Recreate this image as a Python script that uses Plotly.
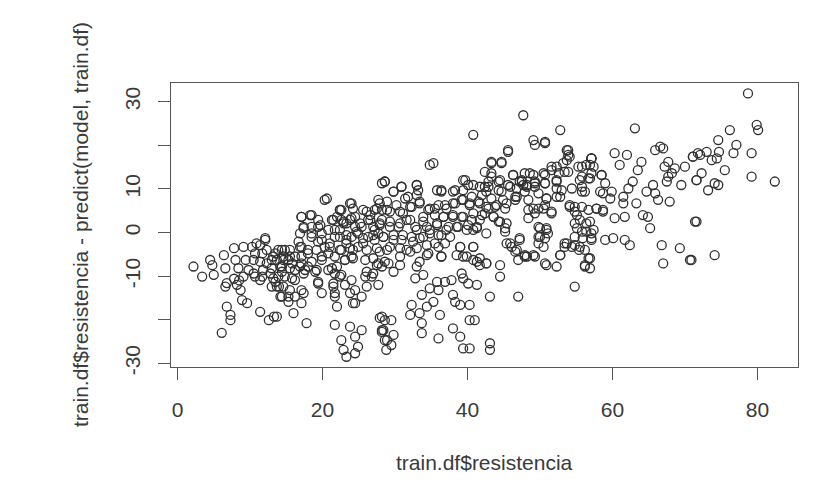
import plotly.graph_objects as go

# train.df$resistencia (x) and residual (y)
resistencia = [
 2.2,3.4,4.5,4.8,5.0,6.4,6.6,6.8,6.6,7.8,8.0,8.4,8.2,8.7,9.1,9.4,9.8,10.3,10.5,10.7,8.9,9.6,6.8,7.3,7.3,6.1,11.4,12.6,13.3,9.1,7.8,8.5,
 12.1,11.4,11.7,12.3,13.0,13.5,12.8,13.5,14.0,13.0,11.7,14.2,14.2,
 13.9,14.6,14.4,13.9,13.7,14.4,15.3,16.0,13.7,15.5,15.8,16.2,17.1,17.1,17.4,17.1,17.8,18.0,17.1,17.4,18.3,18.5,18.5,19.4,19.4,19.2,
 20.3,19.9,19.0,19.4,19.9,20.8,21.0,20.8,21.3,21.5,21.7,22.0,21.7,21.5,22.4,22.4,22.6,22.6,23.1,22.6,22.9,23.3,
 24.0,23.8,24.0,24.2,24.0,23.8,24.2,23.8,24.5,24.9,24.5,25.4,25.6,25.4,25.6,25.9,25.9,26.1,27.2,27.0,27.2,27.7,26.8,28.2,28.2,28.2,27.7,28.2,
 27.9,28.2,28.6,28.8,29.5,
 22.6,24.5,26.3,27.2,24.9,23.3,21.7,19.9,16.9,16.7,18.0,15.5,14.8,13.7,15.3,16.2,17.6,14.8,16.2,15.3,16.2,20.3,21.7,24.0,24.9,26.3,27.7,28.2,26.6,24.5,22.9,22.0,19.4,21.7,23.1,24.5,25.4,24.5,27.0,27.7,28.2,
 40.8,35.3,28.6,29.8,30.9,33.0,33.2,31.8,36.4,38.3,39.4,40.1,41.7,42.6,
 27.9,28.9,30.2,31.1,32.3,33.4,33.9,34.6,36.0,37.1,38.3,39.4,40.3,41.5,42.6,36.7,38.0,39.2,40.6,41.7,
 27.9,29.3,30.7,32.1,33.0,34.4,35.8,37.1,38.5,39.9,41.3,42.6,28.4,29.8,31.1,32.5,33.9,36.0,36.0,37.6,39.0,40.8,
 27.9,28.9,30.7,32.1,34.4,36.4,38.5,39.9,41.3,42.6,41.7,28.6,29.8,33.0,33.9,32.8,35.8,36.9,37.8,39.2,39.4,40.1,41.3,
 34.8,36.0,33.7,38.0,38.3,35.3,32.3,34.4,33.4,32.1,36.2,39.0,40.3,41.0,40.3,33.7,28.6,29.5,28.4,29.8,28.9,33.7,38.0,39.0,36.0,39.4,40.3,43.1,43.1,
 47.7,52.8,49.1,49.3,50.7,45.6,53.7,53.9,53.7,43.3,44.7,42.4,43.3,44.5,46.3,47.5,48.6,49.3,50.7,51.6,52.3,53.4,55.3,56.4,57.1,55.8,57.1,
 42.9,44.3,45.6,46.8,48.2,49.3,50.7,52.3,53.0,54.4,55.8,56.2,43.3,44.9,46.6,48.4,50.9,52.3,50.7,43.8,45.2,54.1,54.8,55.8,56.7,
 42.4,43.6,48.4,49.8,49.3,51.6,55.1,44.3,45.2,49.8,50.9,51.1,54.8,55.8,57.1,45.4,46.1,46.6,47.2,49.8,50.0,50.5,49.1,47.0,47.9,
 52.8,53.4,54.8,55.5,56.2,50.9,52.3,56.2,44.5,42.6,44.5,54.8,47.0,43.1,
 63.1,65.9,66.6,67.0,60.3,62.0,61.0,64.0,63.5,67.7,67.2,68.6,70.0,71.1,71.8,57.1,57.4,58.5,59.0,62.8,62.2,67.7,68.2,67.5,69.5,71.6,
 56.9,58.7,59.9,59.7,61.5,61.5,63.3,64.7,65.9,65.6,66.3,67.9,57.8,58.7,60.3,61.7,64.2,64.9,65.2,56.9,57.4,57.1,71.4,
 59.0,60.1,61.7,62.4,66.8,69.3,56.9,67.0,70.7,56.9,
 78.7,79.9,80.1,76.2,74.6,77.1,76.7,74.7,79.2,71.1,72.1,73.0,73.7,74.4,75.5,72.3,71.6,74.1,74.6,73.2,79.2,82.4,71.6,74.1,70.9,
]
residuo = [
 -7.8,-10.1,-6.3,-7.5,-9.7,-5.2,-8.2,-11.6,-12.4,-3.6,-6.3,-8.2,-12.0,-13.2,-3.3,-6.3,-8.6,-3.3,-6.3,-10.1,-15.5,-16.2,-17.0,-18.9,-20.1,-23.0,-18.2,-20.1,-19.3,-10.1,-10.6,-11.0,
 -1.3,-2.9,-4.8,-7.1,-6.3,-4.8,-9.4,-11.3,-12.4,-12.4,-10.1,-7.8,-14.7,
 -4.0,-5.5,-7.8,-10.1,-12.4,-14.7,-15.9,-18.5,-19.3,-13.2,-7.1,-5.5,-3.3,-7.1,-13.9,-16.2,-20.8,-7.8,3.6,1.0,4.0,1.3,-1.0,1.3,-2.1,-4.0,
 7.5,-5.5,-9.0,-11.3,-13.9,0.6,-2.5,-4.8,-8.2,-11.7,-14.7,-17.0,-21.2,2.9,5.2,0.6,-4.0,-9.7,-6.3,-24.7,-26.9,-28.5,
 6.7,2.9,-1.0,-4.0,-10.9,-13.9,-16.2,-21.6,-23.9,-26.2,-27.7,-22.4,5.2,1.3,-2.5,-6.3,-10.1,-12.4,5.2,1.3,-1.7,-7.1,-10.1,-19.3,-22.8,11.3,7.5,2.9,
 -19.6,-22.4,-24.7,-26.9,-25.8,
 2.9,3.6,2.9,0.6,-0.2,-1.7,-1.0,-0.2,-0.2,-2.1,-4.0,-4.0,-4.0,-6.3,-6.3,-8.6,-8.6,-10.1,-10.9,-14.7,-14.7,-3.3,-5.5,-5.5,-3.3,-1.0,-0.2,5.2,4.0,1.3,2.1,3.6,2.9,-9.4,-12.0,-13.2,-14.7,-16.2,-9.4,-12.0,-7.8,
 22.4,15.9,11.7,9.4,10.5,10.9,9.7,8.2,9.7,9.7,12.0,10.9,10.5,9.4,
 6.7,5.2,6.3,4.4,5.9,6.7,3.6,5.2,6.3,5.5,6.7,7.5,6.7,7.1,5.9,3.6,3.6,3.6,2.9,2.9,
 2.1,1.3,2.1,2.9,0.6,1.3,2.1,0.6,1.3,0.6,1.3,-0.2,-1.0,-1.7,-0.6,-2.1,-1.0,-0.6,-3.3,-1.0,-3.3,-3.3,
 -4.4,-4.0,-3.6,-4.4,-5.2,-5.5,-5.2,-5.5,-6.7,-7.1,-5.9,-6.7,-9.0,-7.8,-9.7,-10.5,-11.3,-11.3,-10.9,-9.4,-10.5,-11.7,-12.0,
 -12.8,-13.2,-14.3,-14.3,-15.9,-15.9,-16.6,-17.0,-18.5,-18.9,-18.9,-16.6,-16.6,-20.1,-20.1,-20.8,-20.1,-20.1,-22.4,-23.5,-24.7,-23.1,-22.0,-23.9,-24.3,-26.6,-26.6,-25.4,-26.9,
 26.9,23.5,21.2,20.1,20.8,18.9,18.9,17.8,16.6,16.2,16.2,13.9,12.8,12.0,13.2,12.0,13.6,11.7,13.2,14.3,15.1,13.9,15.1,15.5,17.0,12.8,13.6,
 10.5,9.7,10.9,10.1,10.9,10.5,11.3,11.7,9.7,10.1,10.5,9.4,7.8,7.5,8.2,7.5,7.8,8.2,6.3,5.9,5.5,6.3,5.9,5.9,5.2,
 4.4,3.6,3.3,5.5,4.4,4.4,4.0,2.5,1.0,1.3,1.0,-0.2,2.1,0.2,-0.2,-2.5,-3.3,-4.4,-1.3,-2.5,-1.0,-3.3,-5.2,-6.3,-5.5,
 -5.2,-2.5,-2.9,-3.3,-4.0,-7.5,-7.8,-7.8,-7.5,-7.1,-10.1,-12.4,-14.7,-14.7,
 23.9,18.9,19.7,19.3,18.2,17.8,15.5,16.2,14.3,16.2,15.1,14.7,15.1,17.4,18.2,17.0,15.1,13.2,11.3,11.7,10.1,12.8,13.6,11.7,10.9,12.0,
 12.4,9.0,9.4,7.8,8.2,6.7,6.7,9.4,9.0,10.9,7.5,7.1,5.5,4.8,3.3,3.6,4.0,3.6,1.0,2.5,0.6,-1.3,2.5,
 -1.7,-1.3,-1.7,-2.9,-2.9,-3.6,-5.9,-7.1,-6.3,-8.2,
 31.9,24.7,23.5,23.5,21.2,20.1,18.2,18.5,18.2,17.4,17.8,18.5,16.6,17.0,14.3,13.6,12.0,11.3,10.9,9.7,12.8,11.7,2.5,-5.2,-6.3,
]

# additional points read from close-up views of the dense clusters
resistencia_densa = [
 20.6,22.4,17.1,18.5,17.4,19.7,18.5,19.9,21.3,21.7,22.4,23.3,21.0,22.4,23.1,23.3,10.9,12.1,12.3,10.7,11.4,13.2,14.4,14.6,15.5,16.9,17.1,18.0,18.5,19.2,19.9,20.8,22.0,22.4,
 10.5,11.8,13.0,13.2,14.4,15.5,15.8,14.6,16.9,17.4,17.1,19.4,21.5,21.7,11.4,
 34.8,28.6,30.9,29.8,33.0,33.0,31.4,35.8,23.8,24.2,22.6,26.1,27.5,28.9,29.3,30.7,32.1,33.4,34.8,35.5,
 22.9,24.0,25.2,26.6,27.9,29.3,30.5,31.6,32.8,33.9,34.8,23.3,24.7,25.6,27.0,28.4,29.8,30.9,32.3,33.4,34.4,
 23.8,26.1,27.5,29.3,31.6,33.0,34.6,24.2,27.0,30.7,29.1,27.5,33.4,26.1,30.7,
 43.3,44.7,45.6,43.3,46.3,39.7,40.8,42.9,44.3,47.2,36.4,38.0,39.4,40.6,42.0,42.4,44.7,45.9,47.7,46.8,
 35.5,36.9,38.0,39.2,40.3,41.7,42.9,44.0,45.4,46.6,48.4,36.7,38.0,39.4,40.8,42.0,43.6,44.5,45.4,
 35.8,37.4,38.7,40.1,41.3,34.8,36.4,40.8,45.2,47.2,35.5,36.9,39.0,40.8,45.9,46.8,48.2,36.4,39.4,40.8,41.7,
 50.7,53.9,54.1,57.1,51.6,53.2,55.8,56.9,47.9,49.1,50.5,52.6,53.9,47.5,48.2,49.3,50.7,52.3,55.5,56.7,58.5,
 47.9,49.8,50.9,52.3,52.8,55.8,58.3,50.5,49.1,51.6,54.1,54.8,57.8,58.7,55.5,56.4,50.0,50.9,49.8,50.7,
 55.1,56.4,54.8,55.9,57.1,53.7,54.4,55.4,47.9,49.3,50.7,52.8,53.4,56.7,56.2,
]
residuo_densa = [
 7.8,5.2,3.6,4.0,1.3,1.7,-0.2,-1.7,2.9,0.6,-1.0,2.1,-3.3,-4.0,-6.3,-2.5,-2.5,-1.7,-4.0,-4.8,-6.7,-5.5,-4.0,-6.3,-5.5,-3.3,-5.5,-4.8,-6.7,-8.6,-6.3,-8.6,-7.8,-10.1,
 -9.4,-8.6,-8.2,-10.5,-9.0,-8.2,-10.5,-12.4,-7.8,-9.4,-13.2,-11.7,-12.4,-13.9,-10.9,
 15.5,11.7,10.5,9.4,10.9,8.6,7.8,9.7,6.7,5.5,5.2,4.8,5.5,7.1,4.8,4.8,5.9,7.1,5.5,4.0,
 2.5,3.3,2.1,2.9,1.7,2.5,1.3,2.9,1.3,2.5,0.6,-0.6,0.2,-1.3,-0.6,-1.0,-0.6,-1.7,-1.0,-1.3,-2.9,
 -3.6,-4.0,-3.6,-3.3,-4.0,-3.6,-4.8,-5.9,-5.9,-5.5,-7.1,-7.5,-6.7,-9.0,-7.5,
 15.9,15.9,18.5,13.6,13.2,12.0,10.9,11.7,11.7,11.7,9.4,9.4,9.7,8.2,8.6,10.5,9.4,10.5,10.9,8.2,
 5.5,6.3,6.7,7.5,6.3,6.7,5.5,6.3,6.7,7.5,5.2,3.6,4.0,3.6,4.4,4.0,3.6,2.5,2.1,
 1.7,1.3,1.3,1.7,1.0,-0.2,-0.6,0.6,0.2,-1.7,-2.5,-2.5,-3.3,-3.3,-2.5,-4.0,-5.5,-5.5,-5.5,-6.3,-7.5,
 20.5,18.9,17.4,17.0,15.1,15.9,15.1,15.5,13.6,13.2,13.6,13.6,13.9,11.7,10.5,11.3,11.3,12.0,12.0,12.4,13.2,
 9.4,9.0,7.8,10.1,8.2,9.4,9.4,5.5,5.5,4.8,5.9,4.8,5.5,5.2,2.9,2.1,1.0,0.6,-1.0,-1.3,
 1.0,0.2,-1.0,-1.3,-1.7,-2.5,-3.3,-4.0,-5.2,-5.5,-7.1,-5.2,-3.3,-5.9,-7.5,
]

x_ticks = [0, 20, 40, 60, 80]
y_ticks = [-30, -20, -10, 0, 10, 20, 30]
y_tick_text = ["-30", "", "-10", "0", "10", "", "30"]

FONT = "Liberation Sans, Arial, Helvetica, sans-serif"
TXT = "#3a3a3a"
AX = "#555555"

fig = go.Figure(go.Scatter(
    x=resistencia + resistencia_densa, y=residuo + residuo_densa, mode="markers",
    marker=dict(symbol="circle-open", size=9, color="#303030",
                line=dict(width=1.3, color="#303030")),
    hoverinfo="skip",
))

fig.update_layout(
    width=815, height=498,
    margin=dict(l=171, r=17, t=83, b=131),
    paper_bgcolor="white", plot_bgcolor="white",
    showlegend=False,
    font=dict(family=FONT, color=TXT, size=21),
    annotations=[
        dict(text="train.df$resistencia", xref="paper", yref="paper",
             x=0.5, y=0, xanchor="center", yanchor="middle", yshift=-95,
             showarrow=False, font=dict(family=FONT, size=21, color=TXT)),
        dict(text="train.df$resistencia - predict(model, train.df)", xref="paper", yref="paper",
             x=0, y=0.5, xanchor="center", yanchor="middle", xshift=-91, textangle=-90,
             showarrow=False, font=dict(family=FONT, size=21, color=TXT)),
    ],
)
fig.update_xaxes(range=[-0.9, 85.6], tickvals=x_ticks, ticktext=[str(v) for v in x_ticks],
                 showline=True, linecolor=AX, linewidth=1, mirror=True,
                 ticks="outside", ticklen=12, tickcolor=AX, tickwidth=1,
                 showgrid=False, zeroline=False, ticklabelstandoff=12,
                 tickfont=dict(family=FONT, size=21, color=TXT))
fig.update_yaxes(range=[-30.85, 34.3], tickvals=y_ticks, ticktext=y_tick_text,
                 showline=True, linecolor=AX, linewidth=1, mirror=True,
                 ticks="outside", ticklen=12, tickcolor=AX, tickwidth=1,
                 showgrid=False, zeroline=False, tickangle=-90, ticklabelstandoff=10,
                 tickfont=dict(family=FONT, size=21, color=TXT))

fig.write_html("out.html")
